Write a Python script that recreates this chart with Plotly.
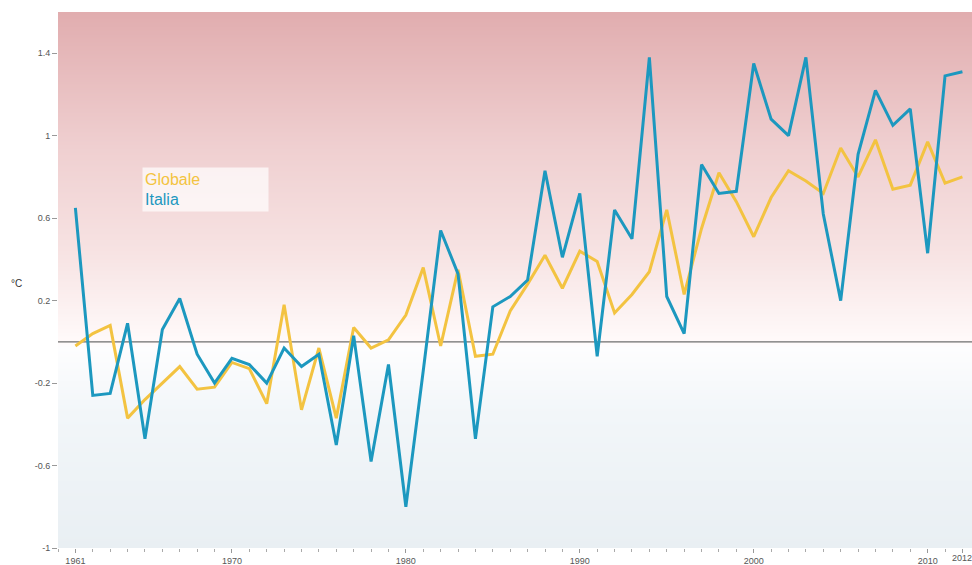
import numpy as np
import plotly.graph_objects as go

years = list(range(1961, 2013))
italia = [0.65, -0.26, -0.25, 0.09, -0.47, 0.06, 0.21, -0.06, -0.20, -0.08,
          -0.11, -0.20, -0.03, -0.12, -0.06, -0.50, 0.03, -0.58, -0.11, -0.80,
          -0.14, 0.54, 0.33, -0.47, 0.17, 0.22, 0.30, 0.83, 0.41, 0.72,
          -0.07, 0.64, 0.50, 1.38, 0.22, 0.04, 0.86, 0.72, 0.73, 1.35,
          1.08, 1.00, 1.38, 0.62, 0.20, 0.91, 1.22, 1.05, 1.13, 0.43,
          1.29, 1.31]
globale = [-0.02, 0.04, 0.08, -0.37, -0.28, -0.20, -0.12, -0.23, -0.22, -0.10,
           -0.13, -0.30, 0.18, -0.33, -0.03, -0.37, 0.07, -0.03, 0.01, 0.13,
           0.36, -0.02, 0.35, -0.07, -0.06, 0.15, 0.28, 0.42, 0.26, 0.44,
           0.39, 0.14, 0.23, 0.34, 0.64, 0.23, 0.55, 0.82, 0.68, 0.51,
           0.70, 0.83, 0.78, 0.72, 0.94, 0.80, 0.98, 0.74, 0.76, 0.97,
           0.77, 0.80]
x_tickvals = [1961, 1970, 1980, 1990, 2000, 2010]
last_year_label = 2012
y_tickvals = [-1, -0.6, -0.2, 0.2, 0.6, 1, 1.4]
y_ticktext = ["-1", "-0.6", "-0.2", "0.2", "0.6", "1", "1.4"]

x_range = [1960, 2012.55]
y_range = [-1, 1.6]

# background gradient (decorative)
bg_y = np.linspace(y_range[0], y_range[1], 120)
bg_z = [[v, v] for v in bg_y]
colorscale = [
    [0.0, "rgb(233,239,243)"],
    [0.25, "rgb(242,246,249)"],
    [1 / 2.6 - 0.01, "rgb(253,253,254)"],
    [1 / 2.6, "rgb(255,250,250)"],
    [0.55, "rgb(247,227,227)"],
    [0.75, "rgb(239,207,208)"],
    [1.0, "rgb(225,173,175)"],
]

fig = go.Figure()
fig.add_trace(go.Heatmap(x=x_range, y=bg_y, z=bg_z, colorscale=colorscale,
                         zsmooth="best", showscale=False, hoverinfo="skip"))
fig.add_trace(go.Scatter(x=x_range, y=[0, 0], mode="lines",
                         line=dict(color="#6e6e6e", width=1.2),
                         hoverinfo="skip", showlegend=False))
fig.add_trace(go.Scatter(x=years, y=globale, mode="lines", name="Globale",
                         line=dict(color="#f3c341", width=3), showlegend=False))
fig.add_trace(go.Scatter(x=years, y=italia, mode="lines", name="Italia",
                         line=dict(color="#1c98bf", width=3), showlegend=False))

tick_font = dict(family="Liberation Sans, Arial, sans-serif", size=9, color="#555")
fig.update_xaxes(range=x_range, tickvals=x_tickvals + [last_year_label],
                 ticktext=[str(v) for v in x_tickvals] + [""],
                 ticks="outside", ticklen=4,
                 tickcolor="#999", showgrid=False, zeroline=False, showline=False,
                 tickfont=tick_font,
                 minor=dict(dtick=1, tick0=1960, ticks="outside", ticklen=3,
                            tickcolor="#aaa", showgrid=False))
fig.update_yaxes(range=y_range, tickvals=y_tickvals, ticktext=y_ticktext,
                 ticks="outside", ticklen=5, tickcolor="#999", showgrid=False,
                 zeroline=False, showline=False, tickfont=tick_font)

fig.add_annotation(xref="x", yref="paper", x=last_year_label, y=0,
                   xanchor="center", yanchor="top", yshift=-3, showarrow=False,
                   text=str(last_year_label), font=tick_font)
fig.add_annotation(xref="paper", yref="paper", x=-0.045, y=(548 - 283) / 536,
                   text="°C", showarrow=False, xanchor="center", yanchor="middle",
                   font=dict(family="Liberation Sans, Arial, sans-serif", size=10, color="#333"))
fig.add_annotation(xref="paper", yref="paper", x=(142 - 58) / 914, y=(548 - 167) / 536,
                   xanchor="left", yanchor="top", showarrow=False, align="left",
                   width=121, height=39, borderpad=2,
                   bgcolor="rgba(255,255,255,0.7)",
                   text="<span style='color:#f3c341'>Globale</span><br>"
                        "<span style='color:#1c98bf'>Italia</span>",
                   font=dict(family="Liberation Sans, Arial, sans-serif", size=16))

fig.update_layout(width=972, height=565,
                  margin=dict(l=58, r=0, t=12, b=17),
                  paper_bgcolor="white", plot_bgcolor="white",
                  showlegend=False)
fig.write_html("out.html", config={"displayModeBar": False},
               post_script="document.body.style.margin='0px';"
                           "document.body.style.overflow='hidden';")
